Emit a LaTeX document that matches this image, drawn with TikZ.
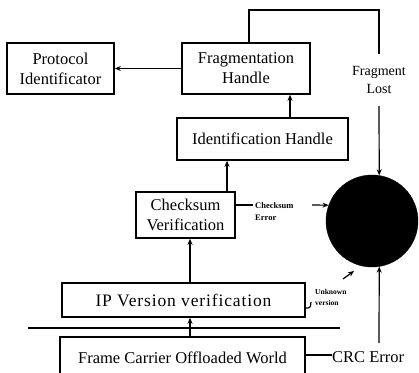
\documentclass[tikz,border=0pt]{standalone}
\usepackage{fontspec}
\setmainfont{Liberation Serif}
\usetikzlibrary{arrows.meta}
\begin{document}
\begin{tikzpicture}[x=1pt,y=-1pt,
  box/.style={draw, line width=1.6pt, align=center, inner sep=0pt, font=\fontsize{16.5}{20}\selectfont},
  conn/.style={line width=1.2pt},
  arr/.style={conn, -{Stealth[length=6pt,width=5pt]}},
  small/.style={font=\bfseries\fontsize{8.5}{12}\selectfont, align=left, inner sep=0pt},
  lbl/.style={align=center, inner sep=0pt}]
\useasboundingbox (0,0) rectangle (419,372);
\clip (0,0) rectangle (419,372);
% boxes
\node[box, minimum width=107pt, minimum height=51pt] (proto) at (60.5,68.5) {Protocol\\Identificator};
\node[box, minimum width=128pt, minimum height=51pt] (frag) at (246,68.5) {Fragmentation\\Handle};
\node[box, minimum width=171pt, minimum height=42pt] (ident) at (262.5,139) {Identification Handle};
\node[box, minimum width=99pt, minimum height=46pt] (check) at (185.5,215) {Checksum\\Verification};
\node[box, minimum width=243pt, minimum height=34pt, font=\fontsize{17.5}{20}\selectfont\addfontfeatures{LetterSpace=5}] (ipv) at (183.5,300) {IP Version verification};
\node[box, minimum width=245pt, minimum height=42pt] (frame) at (182.5,358) {Frame Carrier Offloaded World};
\node[circle, fill=black, draw=black, minimum size=92pt, inner sep=0pt] (sink) at (372,221) {};
% labels
\node[lbl, font=\fontsize{14}{18}\selectfont, minimum height=52pt] (fl) at (379,80) {Fragment\\Lost};
\node[small, anchor=west] (ce) at (255,212) {Checksum\\Error};
\node[small, anchor=west, font=\bfseries\fontsize{7.5}{11}\selectfont] (uv) at (315,297.5) {Unknown\\version};
\node[lbl, anchor=west, font=\fontsize{16.5}{20}\selectfont] (crc) at (332,357) {CRC Error};
% helper coordinates
\coordinate (xloop) at (249,0);
\coordinate (topl) at (379,10);
\coordinate (xid) at (290,0);
\coordinate (xck) at (227,0);
\coordinate (xip) at (190,0);
\coordinate (ceA) at (253,205);
\coordinate (ceB) at (312,205);
\coordinate (uvA) at (343,279);
\coordinate (uvB) at (354,271);
\coordinate (hook) at (311,302);
\coordinate (sepL) at (28,328);
\coordinate (sepR) at (340,328);
\coordinate (crcA) at (379,343);
% connectors
\draw[arr] (frag.west) -- (proto.east);
\draw[conn] (frag.north -| xloop) |- (topl) -- (fl.north);
\draw[arr] (fl.south) -- (sink.81);
\draw[arr] (ident.north -| xid) -- (frag.south -| xid);
\draw[arr] (check.north -| xck) -- (ident.south -| xck);
\draw[arr] (ipv.north -| xip) -- (check.south -| xip);
\draw[line width=2pt] (sepL) -- (sepR);
\draw[arr] (frame.north -| xip) -- (ipv.south -| xip);
\draw[conn] (check.east |- ceA) -- (ceA);
\draw[arr] (ceB) -- (sink.160);
\draw[conn] (ipv.east |- 0,308) -- (308,308) to[out=0,in=-90] (hook);
\draw[arr] (uvA) -- (uvB);
\draw[conn] (frame.east |- 0,355) -- (crc.west |- 0,355);
\draw[arr] (crcA) -- (sink.-81);
\end{tikzpicture}
\end{document}
